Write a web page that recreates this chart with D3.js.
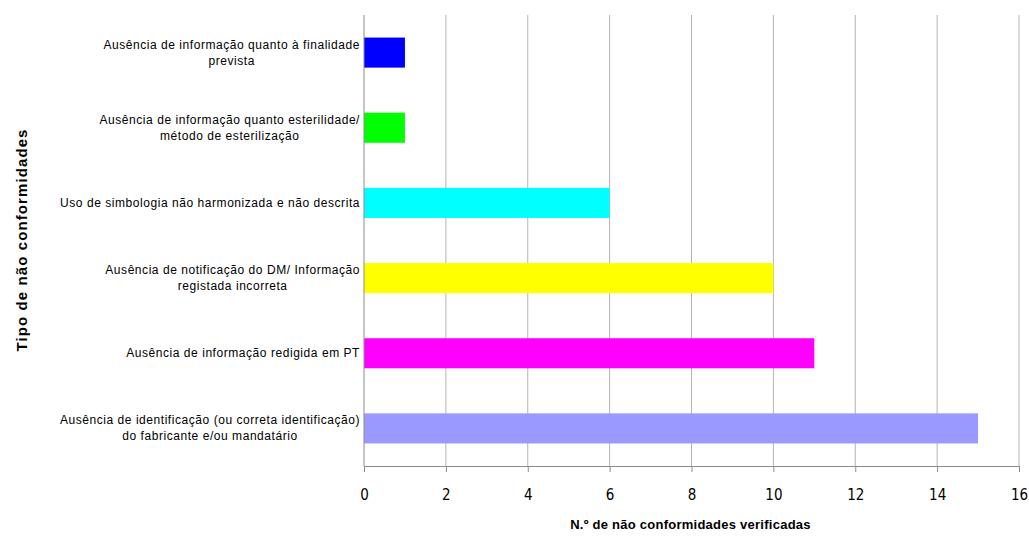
<!DOCTYPE html>
<html>
<head>
<meta charset="utf-8">
<script src="https://cdn.jsdelivr.net/npm/d3@7"></script>
<style>
  body { margin: 0; background: #fff; }
  svg { display: block; }
</style>
</head>
<body>
<div id="wrapper"></div>
<script>
// categories top to bottom, each split into its label lines
const categories = [
    ["Ausência de informação quanto à finalidade", "prevista"],
    ["Ausência de informação quanto esterilidade/", "método de esterilização"],
    ["Uso de simbologia não harmonizada e não descrita"],
    ["Ausência de notificação do DM/ Informação", "registada incorreta"],
    ["Ausência de informação redigida em PT"],
    ["Ausência de identificação (ou correta identificação)", "do fabricante e/ou mandatário"]
];
const values = [1, 1, 6, 10, 11, 15];
const barColors = ["#0000ff", "#00ff00", "#00ffff", "#ffff00", "#ff00ff", "#9999ff"];
const xTicks = [0, 2, 4, 6, 8, 10, 12, 14, 16];
const xTitle = "N.º de não conformidades verificadas";
const yTitle = "Tipo de não conformidades";

const dimension = {
    width: 1029,
    height: 559,
    margin: { top: 15, right: 10, bottom: 93, left: 364 }
};
dimension.boundedWidth  = dimension.width  - dimension.margin.left - dimension.margin.right;
dimension.boundedHeight = dimension.height - dimension.margin.top  - dimension.margin.bottom;

const svg = d3.select("#wrapper")
    .append("svg")
    .attr("width", dimension.width)
    .attr("height", dimension.height);

const g = svg.append("g")
    .attr("transform", "translate(" + dimension.margin.left + "," + dimension.margin.top + ")");

var x = d3.scaleLinear()
    .domain([0, 16])
    .range([0, 655]);

var y = d3.scaleBand()
    .domain(d3.range(categories.length))
    .range([0, dimension.boundedHeight])
    .paddingInner(0.6)
    .paddingOuter(0.3);

// grid lines
g.append("g")
    .selectAll("line")
    .data(xTicks.slice(1))
    .enter()
    .append("line")
    .attr("x1", d => x(d))
    .attr("x2", d => x(d))
    .attr("y1", 0)
    .attr("y2", dimension.boundedHeight)
    .attr("stroke", "#b3b3b3")
    .attr("stroke-width", 1);

// bars
g.append("g")
    .selectAll("rect")
    .data(values)
    .enter()
    .append("rect")
    .attr("x", x(0))
    .attr("y", (d, i) => y(i))
    .attr("width", d => x(d) - x(0))
    .attr("height", y.bandwidth())
    .attr("fill", (d, i) => barColors[i]);

// bottom axis
const xAxis = g.append("g")
    .attr("transform", "translate(0," + dimension.boundedHeight + ")")
    .call(d3.axisBottom(x).tickValues(xTicks).tickSize(6).tickPadding(17));
xAxis.select(".domain").attr("stroke", "#8c8c8c");
xAxis.selectAll(".tick line").attr("stroke", "#8c8c8c");
xAxis.selectAll(".tick text")
    .attr("fill", "#000")
    .style("font-family", "'Liberation Sans Narrow', 'DejaVu Sans Condensed', 'Open Sans', sans-serif")
    .style("font-size", "15px");

// left axis line
g.append("line")
    .attr("x1", 0).attr("x2", 0)
    .attr("y1", 0).attr("y2", dimension.boundedHeight)
    .attr("stroke", "#8c8c8c");

// category labels, lines centred on each other, block right-aligned
const labelRight = -4;
const labels = g.append("g")
    .selectAll("text")
    .data(categories)
    .enter()
    .append("text")
    .attr("text-anchor", "middle")
    .style("font-family", "'Liberation Sans', Arial, sans-serif")
    .style("font-size", "12px")
    .style("letter-spacing", "0.55px")
    .attr("fill", "#000");

labels.each(function(lines, i) {
    const t = d3.select(this);
    const cy = y(i) + y.bandwidth() / 2;
    const n = lines.length;
    lines.forEach((line, k) => {
        t.append("tspan")
            .attr("y", cy + (k - (n - 1) / 2) * 16 + 4)
            .text(line);
    });
    let maxW = 0;
    t.selectAll("tspan").each(function() {
        maxW = Math.max(maxW, this.getComputedTextLength());
    });
    t.selectAll("tspan").attr("x", labelRight - maxW / 2);
});

// axis titles
svg.append("text")
    .attr("x", dimension.margin.left + 655 / 2 - 1)
    .attr("y", 529)
    .attr("text-anchor", "middle")
    .style("font-family", "'Liberation Sans', Arial, sans-serif")
    .style("font-size", "13px")
    .style("font-weight", "bold")
    .style("letter-spacing", "0.25px")
    .text(xTitle);

svg.append("text")
    .attr("transform", "translate(27,240) rotate(-90)")
    .attr("text-anchor", "middle")
    .style("font-family", "'Liberation Sans', Arial, sans-serif")
    .style("font-size", "15px")
    .style("font-weight", "bold")
    .style("letter-spacing", "1.1px")
    .text(yTitle);
</script>
</body>
</html>
